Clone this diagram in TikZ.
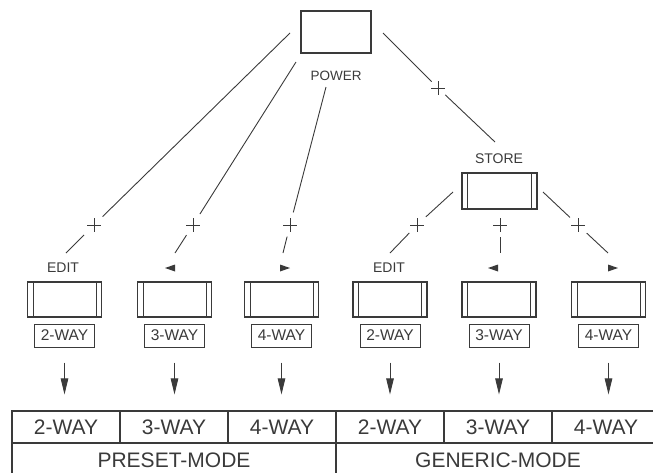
\documentclass[tikz,border=0pt]{standalone}
\usepackage{fontspec}
\setmainfont{Liberation Sans}
\usetikzlibrary{arrows.meta,shapes.misc}
\definecolor{ink}{HTML}{3A3A3A}
\begin{document}
\begin{tikzpicture}[x=1pt,y=-1pt,
  every node/.style={text=ink},
  conn/.style={draw=ink,line width=0.9pt},
  plusmark/.style={draw=ink,cross out,rotate=45,minimum size=8.5pt,inner sep=0pt,line width=0.9pt},
  dbl/.style={path picture={
     \draw[ink,line width=0.9pt]
       ([xshift=5.5pt]path picture bounding box.north west) -- ([xshift=5.5pt]path picture bounding box.south west)
       ([xshift=-5.5pt]path picture bounding box.north east) -- ([xshift=-5.5pt]path picture bounding box.south east);}},
  keybox/.style={draw=ink,line width=1.2pt,minimum width=74pt,minimum height=35pt,inner sep=0pt,dbl},
  tagbox/.style={draw=ink,line width=1pt,minimum width=60pt,minimum height=23pt,inner sep=0pt,font=\fontsize{15.5}{16}\selectfont},
  lbl/.style={inner sep=0pt,font=\fontsize{14}{15}\selectfont},
  cell/.style={draw=ink,line width=1.1pt,minimum width=108pt,minimum height=32pt,inner sep=0pt,font=\fontsize{21}{22}\selectfont},
  modecell/.style={draw=ink,line width=1.1pt,minimum width=324pt,minimum height=35pt,inner sep=0pt,font=\fontsize{21}{22}\selectfont},
  arr/.style={draw=ink,line width=0.9pt,-{Triangle[width=7.5pt,length=16pt]}},
  tri/.style={fill=ink}
]
\useasboundingbox (0,0) rectangle (653,472);

% top boxes
\node[draw=ink,line width=1.2pt,minimum width=70pt,minimum height=42pt,inner sep=0pt] (pw) at (336,32) {};
\node[lbl,font=\fontsize{13.5}{14}\selectfont] (pwl) at (336,76) {POWER};
\node[lbl] (stl) at (499,159) {STORE};
\node[keybox,minimum width=75pt,minimum height=36pt] (st) at (499.5,191) {};

% lower key boxes and tags
\foreach \i/\x/\t in {1/64.5/2-WAY,2/174.5/3-WAY,3/281.5/4-WAY,4/390/2-WAY,5/499/3-WAY,6/608.5/4-WAY}{
  \node[keybox] (k\i) at (\x,299.5) {};
  \node[tagbox] (g\i) at (\x,335.5) {\t};
}

% table
\node[cell] (c1) at (66,427) {2-WAY};
\node[cell] (c2) at (174,427) {3-WAY};
\node[cell] (c3) at (282,427) {4-WAY};
\node[cell] (c4) at (390,427) {2-WAY};
\node[cell] (c5) at (498,427) {3-WAY};
\node[cell] (c6) at (606,427) {4-WAY};
\node[modecell] (m1) at (174,460.5) {PRESET-MODE};
\node[modecell] (m2) at (498,460.5) {GENERIC-MODE};

% arrows
\foreach \i in {1,...,6}{
  \draw[arr,shorten <=15pt,shorten >=16pt] (g\i.south) -- (g\i.south |- c\i.north);
}

% branch coordinates
\coordinate (s1) at (290,33);
\coordinate (s2) at (296,62);
\coordinate (s3) at (326,87);
\coordinate (s4) at (383,33);
\coordinate (s5) at (453,192);
\coordinate (s7) at (543,192);
\node[plusmark] (p1) at (94,225) {};
\node[plusmark] (p2) at (193,225) {};
\node[plusmark] (p3) at (290,225) {};
\node[plusmark] (p4) at (438,88) {};
\node[plusmark] (p5) at (417,225) {};
\node[plusmark] (p6) at (500,225) {};
\node[plusmark] (p7) at (578,225) {};
\coordinate (e1) at (66,253);
\coordinate (e2) at (175,253);
\coordinate (e3) at (283,253);
\coordinate (e4) at (495,142);
\coordinate (e5) at (390,253);
\coordinate (e6) at (500,253);
\coordinate (e7) at (608,253);

\draw[conn,shorten >=12pt] (s1) -- (p1.center);
\draw[conn,shorten <=14pt] (p1.center) -- (e1);
\draw[conn,shorten >=13pt] (s2) -- (p2.center);
\draw[conn,shorten <=12pt] (p2.center) -- (e2);
\draw[conn,shorten >=13pt] (s3) -- (p3.center);
\draw[conn,shorten <=12pt] (p3.center) -- (e3);
\draw[conn,shorten >=9pt] (s4) -- (p4.center);
\draw[conn,shorten <=10pt] (p4.center) -- (e4);
\draw[conn,shorten >=12pt] (s5) -- (p5.center);
\draw[conn,shorten <=11pt] (p5.center) -- (e5);
\draw[conn,shorten <=12pt] (p6.center) -- (e6);
\draw[conn,shorten >=11pt] (s7) -- (p7.center);
\draw[conn,shorten <=12pt] (p7.center) -- (e7);

% labels above key boxes
\node[lbl] (ed1) at (63,268) {EDIT};
\node[lbl] (ed2) at (389,268) {EDIT};
\coordinate (t2) at (170,268);
\coordinate (t3) at (285,268);
\coordinate (t5) at (493,268);
\coordinate (t6) at (613,268);
\fill[tri] (t2) ++(-5,0) -- ++(10,-3.5) -- ++(0,7) -- cycle;
\fill[tri] (t3) ++(5,0) -- ++(-10,-3.5) -- ++(0,7) -- cycle;
\fill[tri] (t5) ++(-5,0) -- ++(10,-3.5) -- ++(0,7) -- cycle;
\fill[tri] (t6) ++(5,0) -- ++(-10,-3.5) -- ++(0,7) -- cycle;
\end{tikzpicture}
\end{document}
